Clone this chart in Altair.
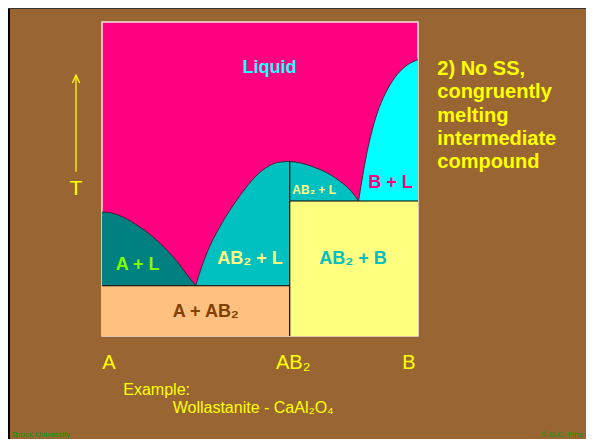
import altair as alt
import pandas as pd

# ---- data (composition 0=A .. 1=B, temperature 0..100) ----
ab2_x = 0.594          # composition of compound AB2
te1 = 16.0             # eutectic A–AB2
te2 = 43.0             # eutectic AB2–B

a_liq_x = [0.0, 0.029, 0.072, 0.114, 0.156, 0.199, 0.241, 0.273, 0.297]
a_liq_T = [39.5, 39.2, 37.6, 35.1, 32.0, 28.0, 23.3, 19.0, 16.0]

ab2l_x = [0.297, 0.304, 0.320, 0.341, 0.368, 0.399, 0.431, 0.463, 0.495, 0.526, 0.558, 0.594]
ab2l_T = [16.0, 18.5, 23.3, 28.6, 33.9, 39.2, 43.9, 48.2, 51.7, 54.0, 55.3, 55.6]

ab2r_x = [0.594, 0.628, 0.670, 0.713, 0.754, 0.786, 0.812]
ab2r_T = [55.6, 55.1, 53.8, 51.9, 49.2, 46.4, 43.0]

b_liq_x = [0.812, 0.823, 0.834, 0.850, 0.871, 0.897, 0.929, 0.966, 1.0]
b_liq_T = [43.0, 49.8, 56.1, 63.5, 71.0, 77.3, 82.6, 86.3, 88.0]

right_lines = ["2) No SS,", "congruently", "melting", "intermediate", "compound"]

FONT = "Liberation Sans"
YEL = "#FFFF00"

xs = alt.Scale(domain=[0, 1], nice=False, zero=False)
ys = alt.Scale(domain=[0, 100], nice=False, zero=False)


def curve_df(xv, tv, base):
    return pd.DataFrame({"x": xv, "T": tv, "base": [base] * len(xv)})


def region(xv, tv, base, color):
    return alt.Chart(curve_df(xv, tv, base)).mark_area(
        color=color, opacity=1, fillOpacity=1, interpolate="monotone",
        line={"color": "#202020", "strokeWidth": 0.8, "interpolate": "monotone"}
    ).encode(
        x=alt.X("x:Q", scale=xs, axis=None),
        y=alt.Y("T:Q", scale=ys, axis=None),
        y2="base:Q",
    )


rects = pd.DataFrame({
    "x": [0.0, ab2_x], "x2": [ab2_x, 1.0],
    "y": [0.0, 0.0], "y2": [te1, te2],
    "name": ["A + AB2", "AB2 + B"],
})
rect_layer = alt.Chart(rects).mark_rect(opacity=1).encode(
    x=alt.X("x:Q", scale=xs, axis=None), x2="x2:Q",
    y=alt.Y("y:Q", scale=ys, axis=None), y2="y2:Q",
    color=alt.Color("name:N", scale=alt.Scale(domain=["A + AB2", "AB2 + B"],
                                              range=["#FFC080", "#FFFF80"]), legend=None),
)

rules = pd.DataFrame({
    "x": [0.0, ab2_x, ab2_x], "x2": [ab2_x, 1.0, ab2_x],
    "y": [te1, te2, 0.0], "y2": [te1, te2, ab2l_T[-1]],
})
rule_layer = alt.Chart(rules).mark_rule(color="black", strokeWidth=1.2).encode(
    x=alt.X("x:Q", scale=xs, axis=None), x2="x2:Q",
    y=alt.Y("y:Q", scale=ys, axis=None), y2="y2:Q",
)

one = alt.Data(values=[{}])


def label(text, x, y, size, color, bold=True, align="left", **kw):
    return alt.Chart(one).mark_text(
        font=FONT, fontSize=size, fontWeight="bold" if bold else "normal",
        color=color, align=align, baseline="alphabetic", **kw
    ).encode(x=alt.value(x), y=alt.value(y), text=alt.value(text))


labels = [
    label("Liquid", 167.5, 50.7, 18, "#22FFFF", align="center"),
    label("A + L", 13.7, 248, 18, "#80FF00"),
    label("AB₂ + L", 115.3, 242.3, 18, "#FFFF80"),
    label("AB₂ + L", 190.3, 172.3, 12, "#FFFF80"),
    label("B + L", 266.3, 166.3, 18, "#FF0080"),
    label("AB₂ + B", 217.3, 242, 18, "#00C0C0"),
    label("A + AB₂", 70.7, 294.7, 18, "#804000"),
    label("A", 0.3, 347.3, 20, YEL, bold=False),
    label("AB₂", 174, 347.3, 20, YEL, bold=False),
    label("B", 300.3, 347.3, 20, YEL, bold=False),
    label("T", -26, 173, 21, YEL, bold=False, align="center"),
    label(right_lines, 335.3, 53, 20, YEL, lineHeight=23.3),
    label("Example:", 21.3, 373, 16, YEL, bold=False),
    label("Wollastanite - CaAl₂O₄", 70.7, 391.3, 16, YEL, bold=False),
    label("Brock University", -89.7, 415, 8, "#00A000", bold=False),
    label("© G.C. Fine", 481, 415, 8, "#00A000", bold=False, align="right"),
]

arrow_line = alt.Chart(one).mark_rule(color=YEL, strokeWidth=1.3).encode(
    x=alt.value(-26), y=alt.value(54), y2=alt.value(149.7))
arrow_head = alt.Chart(one).mark_point(
    shape="M-0.9,1L0,-1L0.9,1", filled=False, color=YEL, strokeWidth=1.3, size=64, opacity=1
).encode(x=alt.value(-26), y=alt.value(57))

frame_left = alt.Chart(one).mark_rule(color="black", strokeWidth=2).encode(
    x=alt.value(-93), y=alt.value(-14), y2=alt.value(417))
frame_top = alt.Chart(one).mark_rule(color="#333333", strokeWidth=1).encode(
    x=alt.value(-94), x2=alt.value(484), y=alt.value(-13.5))

chart = alt.layer(
    region(a_liq_x, a_liq_T, te1, "#008080"),
    region(ab2l_x, ab2l_T, te1, "#00C0C0"),
    region(ab2r_x, ab2r_T, te2, "#00C0C0"),
    region(b_liq_x, b_liq_T, te2, "#00FFFF"),
    rect_layer,
    rule_layer,
    arrow_line,
    arrow_head,
    frame_left,
    frame_top,
    *labels,
).properties(
    width=316, height=314,
    autosize="none",
    padding={"left": 94, "top": 14, "right": 168, "bottom": 103},
    background="#996633",
).configure_view(
    fill="#FF0080", stroke="#F0E8E0", strokeWidth=1.5
)

chart.save("out.html", embed_options={"renderer": "svg", "actions": False})
